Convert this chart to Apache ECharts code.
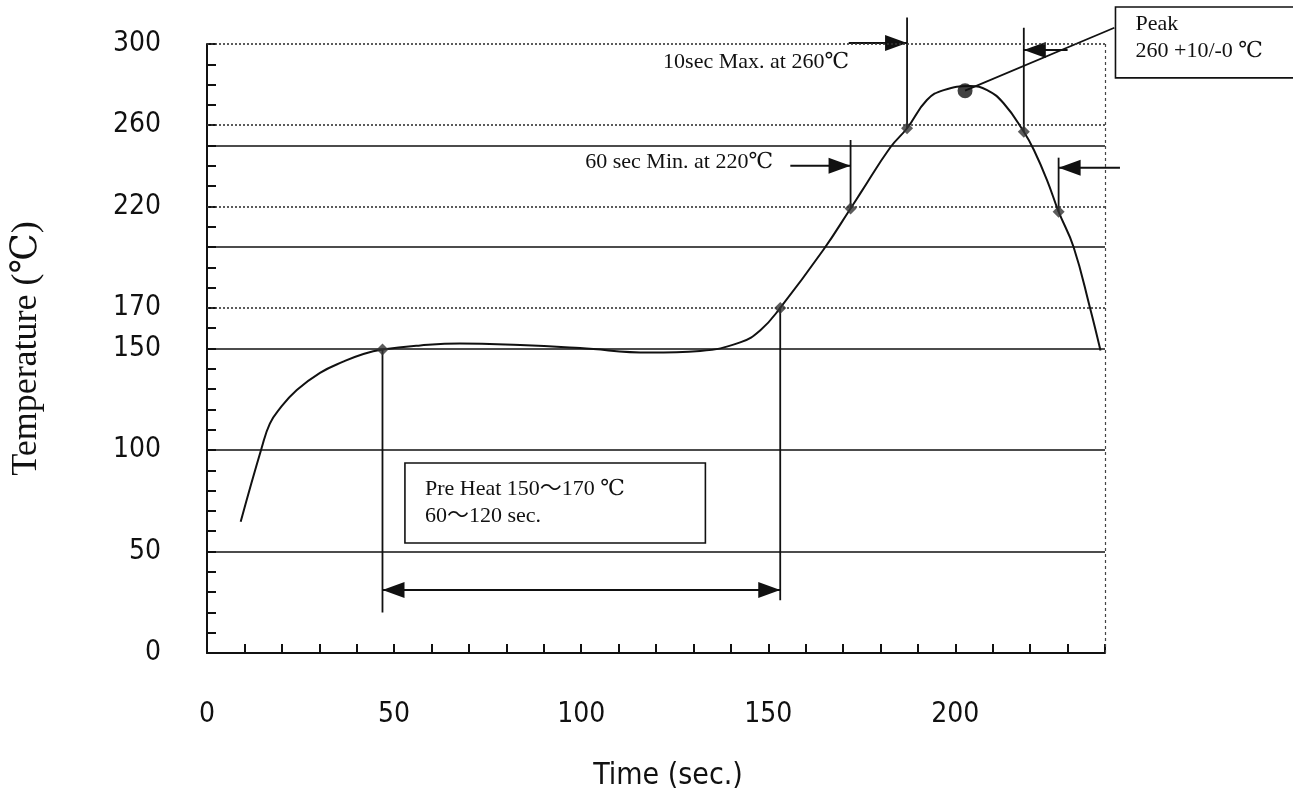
<!DOCTYPE html>
<html><head><meta charset="utf-8">
<script src="https://cdn.jsdelivr.net/npm/echarts@6/dist/echarts.min.js"></script>
<style>html,body{margin:0;padding:0;background:#fff}#c{width:1293px;height:793px}</style>
</head><body><div id="c"></div>
<script>
// ---- data ----
const timeVals = [9, 14.6, 16.8, 19.5, 24, 30.2, 36.4, 41.8, 46.9, 57, 67.6, 83.7, 99.7, 118.4, 131.8, 142.5, 147.9, 153.2, 164.7, 172, 174.6, 182.6, 187.1, 192.4, 196.9, 204, 208.5, 212.9, 218.3, 221, 224.5, 227.6, 231.6, 236, 238.8];
const tempVals = [64.7, 101, 113, 120.5, 129.5, 138, 143.5, 147.3, 149.5, 151.5, 152.5, 151.7, 150.2, 148, 148.8, 153, 159, 170, 198.5, 219, 226.4, 249, 258.5, 272.4, 277.3, 279.3, 277.3, 270.8, 256.8, 247.8, 233, 217.4, 200, 170, 149];
const checkTimes = [46.9, 153.2, 172, 187.1, 218.3, 227.6];
const checkTemps = [149.5, 170, 219, 258.5, 256.8, 217.4];
const peakTime = 202.6;
const peakTemp = 277;
const yTickLabels = [0, 50, 100, 150, 170, 220, 260, 300];
const xTickLabels = [0, 50, 100, 150, 200];
const solidLevels = [50, 100, 150, 200, 250];
const dottedLevels = [170, 220, 260, 300];
const xMax = 240;

// ---- annotation geometry (data units) ----
const guideLines = [
  [[46.9, 149.5], [46.9, 20]],
  [[153.2, 170], [153.2, 26]],
  [[172, 252.7], [172, 219]],
  [[187.1, 313], [187.1, 258.5]],
  [[218.3, 308], [218.3, 256.8]],
  [[227.6, 244], [227.6, 217.4]]
];
const arrowLines = [            // [from, tip]
  [[171.5, 300.5], [187.1, 300.5]],
  [[230, 297], [218.3, 297]],
  [[155.9, 240], [172, 240]],
  [[244, 239], [227.6, 239]]
];
const spanArrow = [[46.9, 31], [153.2, 31]];
const peakLeader = [[peakTime, peakTemp], [242.5, 308]];
const peakBox = {from: [242.8, 318.2], to: [300, 283.3], text: 'Peak\n260 +10/-0 ℃'};
const preHeatBox = {from: [52.9, 93.6], to: [133.2, 54.2], text: 'Pre Heat 150〜170 ℃\n60〜120 sec.'};
const notes = [
  {at: [121.9, 291.1], text: '10sec Max. at 260℃'},
  {at: [101.1, 241.9], text: '60 sec Min. at 220℃'}
];

const SERIF = "'Liberation Serif','DejaVu Serif','Noto Sans CJK JP',serif";
const NARROW = "'Liberation Sans Narrow','DejaVu Sans Condensed','Liberation Sans',Arial,sans-serif";
const INK = '#111';

const chart = echarts.init(document.getElementById('c'));

const gridMarks = [];
solidLevels.forEach(v => gridMarks.push({yAxis: v, lineStyle: {type: 'solid', width: 1.6, color: INK}}));
dottedLevels.forEach(v => gridMarks.push({yAxis: v, lineStyle: {type: [2, 2], width: 1.6, color: '#333'}}));
gridMarks.push({xAxis: xMax, lineStyle: {type: [3, 3], width: 1.2, color: '#444'}});

function renderAnno(params, api) {
  const c = p => api.coord(p);
  const kids = [];
  const seg = (p, q, w) => {
    const a = c(p), b = c(q);
    kids.push({type: 'line', shape: {x1: a[0], y1: a[1], x2: b[0], y2: b[1]}, style: {stroke: INK, lineWidth: w || 1.8}});
  };
  const head = (tipD, fromD) => {
    const tip = c(tipD), from = c(fromD);
    const dx = tip[0] - from[0], dy = tip[1] - from[1];
    const len = Math.hypot(dx, dy) || 1;
    const ux = dx / len, uy = dy / len, L = 22, W = 8;
    const bx = tip[0] - ux * L, by = tip[1] - uy * L;
    kids.push({type: 'polygon', shape: {points: [tip, [bx - uy * W, by + ux * W], [bx + uy * W, by - ux * W]]}, style: {fill: INK}});
  };
  guideLines.forEach(s => seg(s[0], s[1]));
  arrowLines.forEach(s => { seg(s[0], s[1], 2); head(s[1], s[0]); });
  seg(spanArrow[0], spanArrow[1], 2);
  head(spanArrow[1], spanArrow[0]);
  head(spanArrow[0], spanArrow[1]);
  seg(peakLeader[0], peakLeader[1]);
  [peakBox, preHeatBox].forEach(bx => {
    const a = c(bx.from), b = c(bx.to);
    kids.push({type: 'rect', shape: {x: a[0], y: a[1], width: b[0] - a[0], height: b[1] - a[1]},
      style: {fill: '#fff', stroke: INK, lineWidth: 1.6}});
    kids.push({type: 'text', style: {x: a[0] + 20, y: a[1] + (bx === peakBox ? 4 : 13), text: bx.text,
      fontFamily: SERIF, fontSize: 22, lineHeight: 27, fill: INK, align: 'left', verticalAlign: 'top'}});
  });
  notes.forEach(n => {
    const p = c(n.at);
    kids.push({type: 'text', style: {x: p[0], y: p[1], text: n.text, fontFamily: SERIF, fontSize: 22,
      fill: INK, align: 'left', verticalAlign: 'middle'}});
  });
  return {type: 'group', children: kids};
}

chart.setOption({
  animation: false,
  grid: {left: 207, right: 188, top: 44, bottom: 140, containLabel: false, outerBoundsMode: 'none'},
  xAxis: {
    type: 'value', min: 0, max: xMax, interval: 10,
    name: 'Time (sec.)', nameLocation: 'middle', nameGap: 108,
    nameTextStyle: {fontFamily: NARROW, fontSize: 30, color: INK, padding: [0, 0, 0, 24]},
    axisLine: {show: true, onZero: false, lineStyle: {color: INK, width: 2}},
    axisTick: {show: true, inside: true, length: 9, lineStyle: {color: INK, width: 2}},
    axisLabel: {margin: 48, fontFamily: NARROW, fontSize: 28, color: INK,
      formatter: v => xTickLabels.includes(v) ? String(v) : ''},
    splitLine: {show: false}
  },
  yAxis: {
    type: 'value', min: 0, max: 300, interval: 10,
    name: 'Temperature (℃)', nameLocation: 'middle', nameGap: 162, nameRotate: 90,
    nameTextStyle: {fontFamily: SERIF, fontSize: 36, color: INK},
    axisLine: {show: true, onZero: false, lineStyle: {color: INK, width: 2}},
    axisTick: {show: true, inside: true, length: 9, lineStyle: {color: INK, width: 2}},
    axisLabel: {margin: 46, fontFamily: NARROW, fontSize: 28, color: INK,
      formatter: v => yTickLabels.includes(v) ? String(v) : ''},
    splitLine: {show: false}
  },
  series: [
    {
      name: 'profile', type: 'line', smooth: 0.45, smoothConstraint: false, showSymbol: false, clip: false, z: 5,
      data: timeVals.map((t, i) => [t, tempVals[i]]),
      lineStyle: {color: INK, width: 2},
      markLine: {silent: true, symbol: 'none', label: {show: false}, data: gridMarks}
    },
    {
      name: 'annotations', type: 'custom', clip: false, z: 4, silent: true,
      data: [[0, 0]],
      renderItem: renderAnno
    },
    {
      name: 'checkpoints', type: 'scatter', symbol: 'diamond', symbolSize: 12, clip: false, z: 6,
      data: checkTimes.map((t, i) => [t, checkTemps[i]]),
      itemStyle: {color: '#333'}
    },
    {
      name: 'peak', type: 'scatter', symbol: 'circle', symbolSize: 15, clip: false, z: 6,
      data: [[peakTime, peakTemp]],
      itemStyle: {color: INK}
    }
  ]
});
</script></body></html>
